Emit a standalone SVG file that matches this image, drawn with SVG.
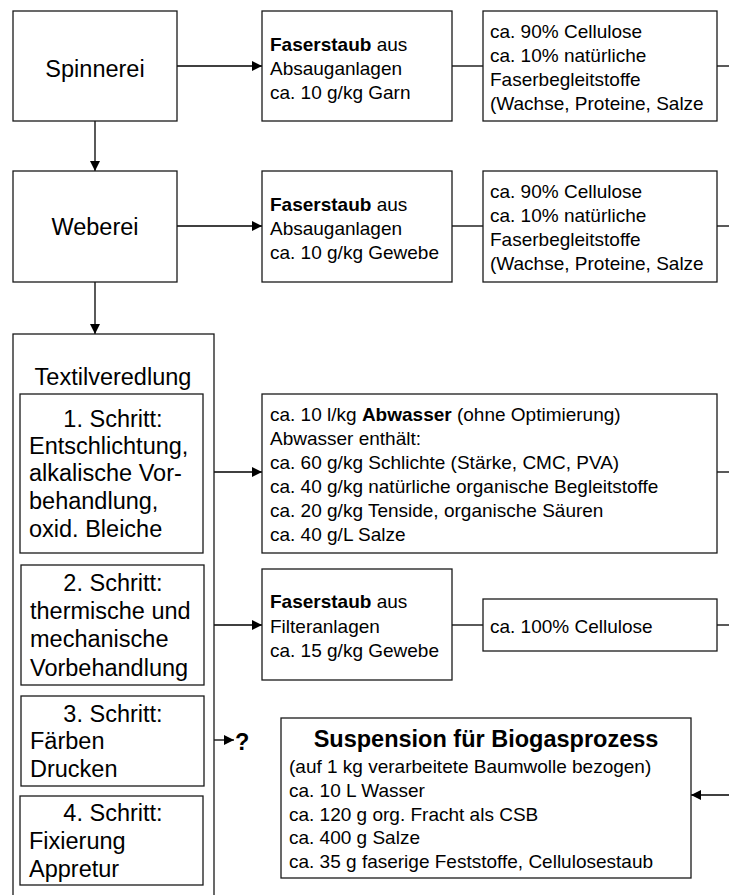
<svg xmlns="http://www.w3.org/2000/svg" width="729" height="895" viewBox="0 0 729 895">
<defs>
<marker id="ah" viewBox="0 0 10 10" refX="10" refY="5" markerWidth="10" markerHeight="10" markerUnits="userSpaceOnUse" orient="auto">
<path d="M0,0 L10,5 L0,10 z" fill="#000"/>
</marker>
<style>
.b{fill:#fff;stroke:#1a1a1a;stroke-width:1.3}
.c{stroke:#000;stroke-width:1.3;fill:none}
text{font-family:"Liberation Sans",Arial,sans-serif;fill:#000}
.big{font-size:23.5px}
.med{font-size:19px}
.bold{font-weight:bold}
</style>
</defs>
<rect width="729" height="895" fill="#fff"/>
<g id="connectors">
<line class="c" x1="177" y1="66" x2="262" y2="66" marker-end="url(#ah)"/>
<line class="c" x1="452" y1="66" x2="483" y2="66"/>
<line class="c" x1="717" y1="66" x2="729" y2="66"/>
<line class="c" x1="95" y1="121" x2="95" y2="171" marker-end="url(#ah)"/>
<line class="c" x1="177" y1="226" x2="262" y2="226" marker-end="url(#ah)"/>
<line class="c" x1="452" y1="226" x2="483" y2="226"/>
<line class="c" x1="717" y1="226" x2="729" y2="226"/>
<line class="c" x1="95" y1="282" x2="95" y2="334" marker-end="url(#ah)"/>
<line class="c" x1="203" y1="472" x2="262" y2="472" marker-end="url(#ah)"/>
<line class="c" x1="717" y1="472" x2="729" y2="472"/>
<line class="c" x1="204" y1="625" x2="262" y2="625" marker-end="url(#ah)"/>
<line class="c" x1="452" y1="625" x2="483" y2="625"/>
<line class="c" x1="717" y1="625" x2="729" y2="625"/>
<line class="c" x1="204" y1="740" x2="234" y2="740" marker-end="url(#ah)"/>
<line class="c" x1="729" y1="795" x2="691" y2="795" marker-end="url(#ah)"/>
</g>
<g id="spinnerei">
<rect class="b" x="13" y="11" width="164" height="110"/>
<text class="big" x="95" y="77" text-anchor="middle">Spinnerei</text>
</g>
<g id="faserstaub1">
<rect class="b" x="262" y="11" width="190" height="110"/>
<text class="med" x="270" y="51"><tspan class="bold">Faserstaub</tspan> aus</text>
<text class="med" x="270" y="75">Absauganlagen</text>
<text class="med" x="270" y="99">ca. 10 g/kg Garn</text>
</g>
<g id="cellulose1">
<rect class="b" x="483" y="11" width="234" height="110"/>
<text class="med" x="490" y="38">ca. 90% Cellulose</text>
<text class="med" x="490" y="62">ca. 10% natürliche</text>
<text class="med" x="490" y="86">Faserbegleitstoffe</text>
<text class="med" x="490" y="110">(Wachse, Proteine, Salze</text>
</g>
<g id="weberei">
<rect class="b" x="13" y="171" width="164" height="111"/>
<text class="big" x="95" y="235" text-anchor="middle">Weberei</text>
</g>
<g id="faserstaub2">
<rect class="b" x="262" y="171" width="190" height="111"/>
<text class="med" x="270" y="211"><tspan class="bold">Faserstaub</tspan> aus</text>
<text class="med" x="270" y="235">Absauganlagen</text>
<text class="med" x="270" y="259">ca. 10 g/kg Gewebe</text>
</g>
<g id="cellulose2">
<rect class="b" x="483" y="171" width="234" height="111"/>
<text class="med" x="490" y="198">ca. 90% Cellulose</text>
<text class="med" x="490" y="222">ca. 10% natürliche</text>
<text class="med" x="490" y="246">Faserbegleitstoffe</text>
<text class="med" x="490" y="270">(Wachse, Proteine, Salze</text>
</g>
<g id="textilveredlung">
<rect class="b" x="13" y="334" width="201" height="580"/>
<text class="big" x="113" y="385" text-anchor="middle">Textilveredlung</text>
</g>
<g id="schritt1">
<rect class="b" x="20" y="394" width="183" height="159"/>
<text class="big" x="113" y="427" text-anchor="middle">1. Schritt:</text>
<text class="big" x="29" y="454">Entschlichtung,</text>
<text class="big" x="29" y="481">alkalische Vor-</text>
<text class="big" x="29" y="509">behandlung,</text>
<text class="big" x="29" y="537">oxid. Bleiche</text>
</g>
<g id="abwasser">
<rect class="b" x="262" y="394" width="455" height="159"/>
<text class="med" x="270" y="421">ca. 10 l/kg <tspan class="bold">Abwasser</tspan> (ohne Optimierung)</text>
<text class="med" x="270" y="445">Abwasser enthält:</text>
<text class="med" x="270" y="469">ca. 60 g/kg Schlichte (Stärke, CMC, PVA)</text>
<text class="med" x="270" y="493">ca. 40 g/kg natürliche organische Begleitstoffe</text>
<text class="med" x="270" y="517">ca. 20 g/kg Tenside, organische Säuren</text>
<text class="med" x="270" y="541">ca. 40 g/L Salze</text>
</g>
<g id="schritt2">
<rect class="b" x="21" y="565" width="183" height="120"/>
<text class="big" x="113" y="591" text-anchor="middle">2. Schritt:</text>
<text class="big" x="30" y="619">thermische und</text>
<text class="big" x="30" y="647">mechanische</text>
<text class="big" x="30" y="676">Vorbehandlung</text>
</g>
<g id="faserstaub3">
<rect class="b" x="262" y="569" width="190" height="111"/>
<text class="med" x="270" y="608"><tspan class="bold">Faserstaub</tspan> aus</text>
<text class="med" x="270" y="633">Filteranlagen</text>
<text class="med" x="270" y="657">ca. 15 g/kg Gewebe</text>
</g>
<g id="cellulose3">
<rect class="b" x="483" y="599" width="234" height="52"/>
<text class="med" x="490" y="633">ca. 100% Cellulose</text>
</g>
<g id="schritt3">
<rect class="b" x="21" y="696" width="183" height="90"/>
<text class="big" x="113" y="722" text-anchor="middle">3. Schritt:</text>
<text class="big" x="30" y="749">Färben</text>
<text class="big" x="30" y="777">Drucken</text>
</g>
<text class="big bold" x="235" y="750">?</text>
<g id="schritt4">
<rect class="b" x="20" y="796" width="183" height="89"/>
<text class="big" x="113" y="821" text-anchor="middle">4. Schritt:</text>
<text class="big" x="29" y="849">Fixierung</text>
<text class="big" x="29" y="877">Appretur</text>
</g>
<g id="suspension">
<rect class="b" x="281" y="718" width="410" height="160"/>
<text class="bold" style="font-size:23.5px" x="486" y="747" text-anchor="middle">Suspension für Biogasprozess</text>
<text class="med" x="289" y="773">(auf 1 kg verarbeitete Baumwolle bezogen)</text>
<text class="med" x="289" y="797">ca. 10 L Wasser</text>
<text class="med" x="289" y="821">ca. 120 g org. Fracht als CSB</text>
<text class="med" x="289" y="844">ca. 400 g Salze</text>
<text class="med" x="289" y="868">ca. 35 g faserige Feststoffe, Cellulosestaub</text>
</g>
</svg>
